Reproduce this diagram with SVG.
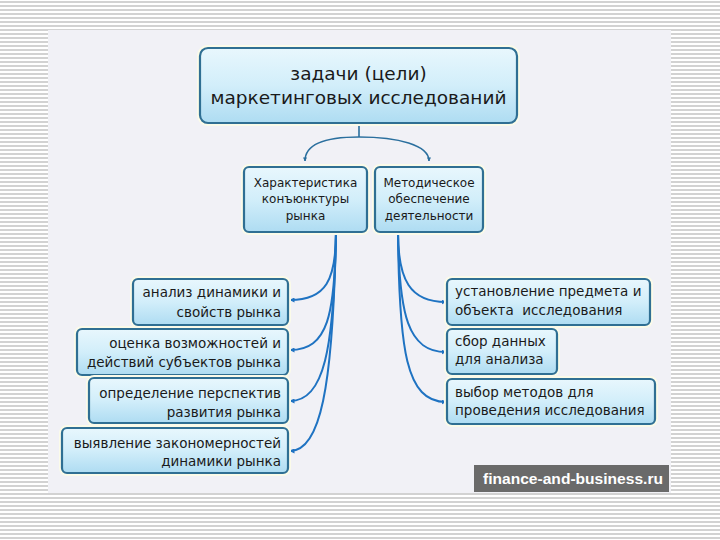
<svg xmlns="http://www.w3.org/2000/svg" width="720" height="540" viewBox="0 0 720 540">
<defs>
<pattern id="stripes" x="0" y="1" width="8" height="4" patternUnits="userSpaceOnUse">
<rect width="8" height="4" fill="#ffffff"/>
<rect y="0" width="8" height="2" fill="#d2d2d2"/>
</pattern>
<linearGradient id="boxg" x1="0" y1="0" x2="0" y2="1">
<stop offset="0" stop-color="#e8f7fd"/>
<stop offset="0.5" stop-color="#d2eefa"/>
<stop offset="1" stop-color="#aedcf2"/>
</linearGradient>
<marker id="arr" viewBox="0 0 10 10" refX="9" refY="5" markerWidth="5" markerHeight="5" orient="auto" markerUnits="userSpaceOnUse">
<path d="M0,0 L10,5 L0,10 z" fill="#1f73c2"/>
</marker>
<marker id="arrs" viewBox="0 0 10 10" refX="9" refY="5" markerWidth="4" markerHeight="4" orient="auto" markerUnits="userSpaceOnUse">
<path d="M0,0 L10,5 L0,10 z" fill="#2a6f9e"/>
</marker>
</defs>
<style>
.box{fill:url(#boxg);stroke:#2f6f93;stroke-width:2.2}
.glow{fill:none;stroke:#fbfbe9;stroke-width:6}
.t{font-family:"DejaVu Sans",Verdana,sans-serif;fill:#1a1a1a}
.title{font-size:18.5px}
.mid{font-size:12px}
.leaf{font-size:13.5px}
.con{fill:none;stroke:#1f73c2;stroke-width:2}
.top{fill:none;stroke:#2a6f9e;stroke-width:1.6}
</style>
<rect width="720" height="540" fill="url(#stripes)"/>
<rect x="48" y="30" width="623" height="463" fill="#f1f1f6"/>

<g id="connectors">
<path class="top" d="M359,123 L359,137" />
<path class="top" d="M359,137 C322,137 305,145 305,161" marker-end="url(#arrs)"/>
<path class="top" d="M359,137 C398,137 429,145 429,161" marker-end="url(#arrs)"/>
<path class="con" d="M336,232 C336,280 326,300 290,300" marker-end="url(#arr)"/>
<path class="con" d="M336,232 C335,315 328,350 290,350" marker-end="url(#arr)"/>
<path class="con" d="M336,232 C334,350 324,401 290,401" marker-end="url(#arr)"/>
<path class="con" d="M336,232 C333,390 320,451 290,451" marker-end="url(#arr)"/>
<path class="con" d="M398,232 C398,280 410,302 446,302" marker-end="url(#arr)"/>
<path class="con" d="M398,232 C399,315 408,352 446,352" marker-end="url(#arr)"/>
<path class="con" d="M398,232 C399,350 406,402 446,402" marker-end="url(#arr)"/>
</g>

<g id="root">
<rect class="glow" x="200" y="48" width="317" height="75" rx="8"/>
<rect class="box" x="200" y="48" width="317" height="75" rx="8"/>
<text class="t title" x="358.5" y="80" text-anchor="middle">задачи (цели)</text>
<text class="t title" x="358.5" y="104" text-anchor="middle">маркетинговых исследований</text>
</g>

<g id="market">
<rect class="glow" x="244" y="167" width="123" height="65" rx="5"/>
<rect class="box" x="244" y="167" width="123" height="65" rx="5"/>
<text class="t mid" x="305.5" y="187" text-anchor="middle">Характеристика</text>
<text class="t mid" x="305.5" y="203" text-anchor="middle">конъюнктуры</text>
<text class="t mid" x="305.5" y="220" text-anchor="middle">рынка</text>
</g>

<g id="method">
<rect class="glow" x="375" y="167" width="108" height="65" rx="5"/>
<rect class="box" x="375" y="167" width="108" height="65" rx="5"/>
<text class="t mid" x="429" y="187" text-anchor="middle">Методическое</text>
<text class="t mid" x="429" y="203" text-anchor="middle">обеспечение</text>
<text class="t mid" x="429" y="220" text-anchor="middle">деятельности</text>
</g>

<g id="l1">
<rect class="glow" x="133" y="279" width="155" height="46" rx="5"/>
<rect class="box" x="133" y="279" width="155" height="46" rx="5"/>
<text class="t leaf" x="281" y="297" text-anchor="end">анализ динамики и</text>
<text class="t leaf" x="281" y="317" text-anchor="end">свойств рынка</text>
</g>
<g id="l2">
<rect class="glow" x="77" y="329" width="211" height="46" rx="5"/>
<rect class="box" x="77" y="329" width="211" height="46" rx="5"/>
<text class="t leaf" x="281" y="348" text-anchor="end">оценка возможностей и</text>
<text class="t leaf" x="281" y="367" text-anchor="end">действий субъектов рынка</text>
</g>
<g id="l3">
<rect class="glow" x="89" y="378" width="199" height="45" rx="5"/>
<rect class="box" x="89" y="378" width="199" height="45" rx="5"/>
<text class="t leaf" x="281" y="398" text-anchor="end">определение перспектив</text>
<text class="t leaf" x="281" y="417" text-anchor="end">развития рынка</text>
</g>
<g id="l4">
<rect class="glow" x="62" y="428" width="226" height="45" rx="5"/>
<rect class="box" x="62" y="428" width="226" height="45" rx="5"/>
<text class="t leaf" x="281" y="448" text-anchor="end">выявление закономерностей</text>
<text class="t leaf" x="281" y="466" text-anchor="end">динамики рынка</text>
</g>

<g id="r1">
<rect class="glow" x="447" y="279" width="203" height="46" rx="5"/>
<rect class="box" x="447" y="279" width="203" height="46" rx="5"/>
<text class="t leaf" x="455" y="296">установление предмета и</text>
<text class="t leaf" x="455" y="315" xml:space="preserve">объекта  исследования</text>
</g>
<g id="r2">
<rect class="glow" x="447" y="329" width="110" height="45" rx="5"/>
<rect class="box" x="447" y="329" width="110" height="45" rx="5"/>
<text class="t leaf" x="455" y="346">сбор данных</text>
<text class="t leaf" x="455" y="364">для анализа</text>
</g>
<g id="r3">
<rect class="glow" x="447" y="379" width="208" height="45" rx="5"/>
<rect class="box" x="447" y="379" width="208" height="45" rx="5"/>
<text class="t leaf" x="455" y="397">выбор методов для</text>
<text class="t leaf" x="455" y="415">проведения исследования</text>
</g>

<g id="watermark">
<rect x="474" y="465" width="195" height="27" fill="#6a6a6a"/>
<text x="483" y="484" font-family="'Liberation Sans',Arial,sans-serif" font-weight="bold" font-size="15" fill="#ffffff" textLength="180" lengthAdjust="spacingAndGlyphs">finance-and-business.ru</text>
</g>
</svg>
